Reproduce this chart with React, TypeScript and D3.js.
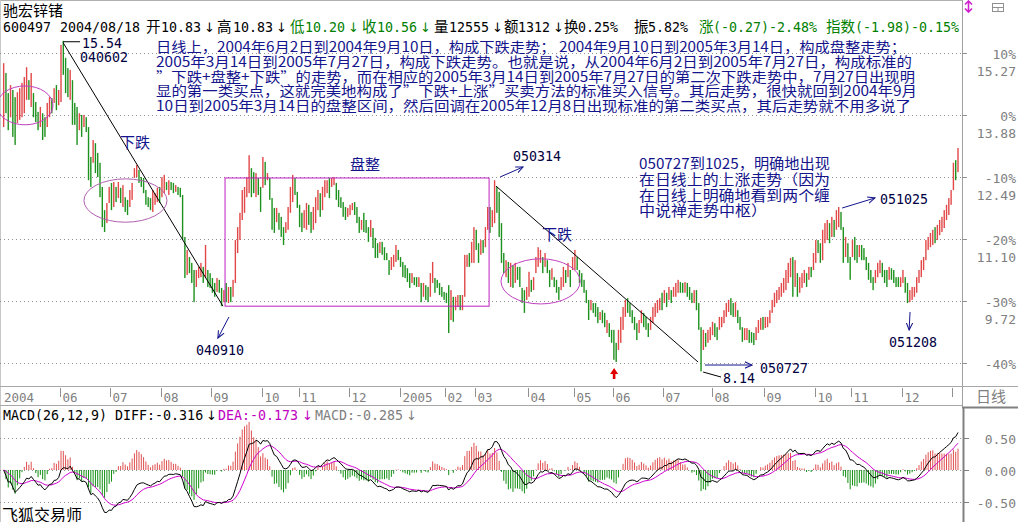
import React from 'react';
import * as d3 from 'd3';

// ---- daily bars (600497 驰宏锌锗, 2004-04-20 .. 2006-01) ----
const opens = [
  13.61,14.82,14.37,13.83,14.44,14.28,13.70,13.77,13.83,13.92,
  14.22,14.66,14.06,14.37,14.17,13.95,13.61,13.92,13.83,13.61,
  13.83,14.26,14.15,14.55,14.10,14.17,15.54,15.16,14.93,14.22,
  14.66,14.15,14.06,13.54,13.88,13.61,13.83,13.61,12.94,12.81,
  13.25,13.03,12.81,12.27,11.75,11.46,11.91,12.36,11.82,12.27,
  12.02,12.25,11.82,12.04,11.98,11.82,11.98,12.47,12.49,12.65,
  12.49,12.47,12.20,12.04,12.02,11.71,11.87,11.93,12.27,12.04,
  12.13,12.38,12.09,12.38,12.36,12.16,12.27,12.25,12.09,11.15,
  10.30,10.70,10.57,10.41,10.03,10.23,10.25,10.48,10.23,10.41,
  10.34,10.23,10.12,9.92,10.19,10.01,9.69,10.12,9.67,10.03,
  9.81,10.12,10.79,11.08,11.53,11.69,12.04,12.13,12.69,12.60,
  12.04,12.47,12.27,12.25,12.83,12.42,12.47,12.02,11.80,11.48,
  11.69,11.60,11.37,11.24,11.31,11.69,11.93,12.47,12.16,11.87,
  11.69,11.35,11.31,11.87,11.71,11.31,11.46,11.75,12.13,11.75,
  12.04,12.13,12.47,12.27,12.31,12.36,12.20,12.04,11.93,11.82,
  11.60,11.64,11.75,11.93,11.82,11.60,11.31,11.69,11.53,11.37,
  11.15,11.35,11.13,11.01,10.79,11.04,10.92,10.79,10.63,10.41,
  10.48,10.59,10.86,10.70,10.59,10.52,10.45,10.34,10.12,10.25,
  10.25,10.03,10.12,9.81,10.07,10.03,9.81,10.12,10.23,10.19,
  10.12,10.03,9.92,9.90,10.07,9.29,9.81,9.51,9.58,9.85,
  9.51,9.81,10.48,10.79,10.57,10.57,11.31,11.01,10.75,11.08,
  10.92,11.31,11.82,11.37,11.46,12.27,12.16,11.46,10.79,10.25,
  10.59,10.03,10.52,10.12,10.48,10.48,10.01,9.96,9.74,9.81,
  10.19,9.96,10.34,10.48,10.57,10.70,10.48,10.63,10.41,10.19,
  10.25,10.19,10.03,9.96,10.03,10.41,10.25,10.41,10.41,10.41,
  10.70,10.41,10.34,10.19,9.96,9.74,9.51,9.67,9.67,9.58,
  9.29,9.51,9.45,9.00,9.22,9.07,9.07,8.78,8.62,8.78,
  9.07,9.36,9.78,9.67,9.51,9.36,9.22,9.00,9.22,9.45,
  9.36,9.22,9.07,9.22,9.36,9.45,9.51,9.90,9.67,9.90,
  9.74,9.96,9.81,9.81,9.90,10.14,10.12,9.90,10.12,10.03,
  9.90,9.67,9.96,9.67,9.13,8.62,9.00,8.78,8.84,8.95,
  9.22,9.13,9.07,9.13,9.22,9.36,9.47,9.78,9.67,9.36,
  9.51,9.36,9.13,8.84,8.84,9.07,9.02,9.00,8.84,9.00,
  9.07,9.36,9.11,9.13,9.22,9.45,9.58,9.67,9.74,9.81,
  9.90,9.96,10.12,10.25,10.70,10.03,10.34,9.90,10.01,10.12,
  10.34,10.19,10.48,10.41,10.57,11.08,11.01,10.63,11.01,11.08,
  11.46,11.15,11.53,11.31,11.37,11.71,11.37,10.70,11.01,10.70,
  10.70,11.15,10.97,10.70,10.97,10.90,10.70,10.57,10.41,10.25,
  10.12,10.25,10.34,10.57,10.41,10.41,10.19,10.45,10.41,10.25,
  10.25,10.03,10.12,10.25,10.12,9.69,9.74,9.81,9.90,10.12,
  10.25,10.41,10.63,10.86,10.92,10.97,11.37,11.08,11.19,11.26,
  11.35,11.53,11.64,11.87,12.20,12.87,12.60,
];
const closes = [
  15.04,13.92,13.54,14.55,13.39,13.21,14.39,14.48,14.60,14.73,
  14.95,14.22,14.82,13.83,13.72,13.54,14.06,13.32,13.39,14.15,
  14.28,13.92,14.48,13.99,14.44,15.45,14.78,14.37,14.28,14.89,
  13.66,13.66,13.21,13.92,13.39,13.88,13.50,12.42,12.27,13.32,
  12.58,12.49,12.04,11.37,11.26,11.91,12.27,11.75,12.38,11.93,
  12.38,11.91,12.31,11.71,11.64,12.20,12.36,12.69,12.76,12.36,
  12.27,12.13,11.87,11.82,11.75,12.20,12.13,12.25,11.91,12.49,
  12.54,12.20,12.42,12.20,12.13,12.31,12.09,12.04,11.08,10.23,
  10.86,10.34,10.12,9.69,10.41,10.48,10.57,10.12,10.97,10.03,
  10.01,9.90,9.81,10.23,9.90,9.60,9.96,9.69,10.03,9.69,
  10.19,11.08,11.37,11.69,12.20,12.27,12.49,12.98,12.04,12.13,
  12.58,12.09,11.71,12.94,12.31,12.58,11.98,11.31,11.24,11.80,
  11.31,11.15,10.97,11.48,11.82,12.27,12.54,12.09,11.80,11.37,
  11.26,11.75,11.91,11.42,11.24,11.82,12.04,12.20,11.60,12.27,
  12.42,12.42,12.02,12.47,12.49,11.98,11.82,11.80,11.60,11.53,
  11.80,11.87,11.91,11.64,11.46,11.24,11.53,11.26,11.24,11.04,
  11.53,10.90,10.68,10.68,11.04,10.75,10.63,10.63,10.30,10.70,
  10.75,10.97,10.63,10.48,10.25,10.23,10.14,10.01,10.34,10.07,
  10.03,10.25,9.69,10.12,9.74,9.69,10.34,10.59,9.90,10.01,
  9.85,9.81,9.74,9.67,9.00,9.96,9.25,9.81,9.85,9.51,
  9.85,10.75,10.75,10.48,11.04,11.37,10.86,10.57,11.08,10.79,
  11.37,11.82,11.24,11.75,12.42,11.69,11.15,10.57,10.34,10.63,
  10.12,10.57,10.01,10.57,10.19,10.03,9.67,9.45,10.03,10.37,
  9.92,10.25,10.70,10.92,10.86,10.34,10.79,10.34,10.03,10.45,
  10.03,9.90,9.74,10.25,10.48,10.12,10.57,10.03,10.70,10.86,
  10.41,10.12,10.03,9.90,9.67,9.29,9.74,9.45,9.36,9.22,
  9.47,9.22,9.13,9.29,8.91,8.78,8.40,8.35,9.07,9.36,
  9.58,9.74,9.45,9.36,9.22,9.07,8.84,9.29,9.51,9.13,
  9.07,8.91,9.36,9.58,9.67,9.74,9.78,9.51,9.96,9.58,
  10.03,9.67,10.03,10.12,10.19,9.90,9.90,10.14,9.81,9.74,
  9.67,9.96,9.51,9.07,8.14,9.07,8.69,9.07,9.13,9.25,
  8.91,8.84,9.36,9.36,9.51,9.67,9.74,9.40,9.36,9.69,
  9.22,9.07,8.80,9.11,9.11,8.78,8.78,8.73,9.13,9.29,
  9.34,9.07,9.36,9.36,9.51,9.74,9.90,9.96,10.03,10.12,
  10.23,10.41,10.57,10.68,9.81,10.63,9.81,10.25,10.34,10.41,
  10.03,10.48,10.25,10.79,11.08,10.79,10.57,11.31,11.46,11.53,
  11.01,11.60,11.15,11.75,11.82,11.31,10.57,11.15,10.57,10.19,
  11.08,10.63,10.57,10.97,10.63,10.63,10.41,10.19,10.12,9.96,
  10.41,10.57,10.63,10.25,10.12,10.03,10.48,10.19,10.12,10.03,
  10.03,10.25,10.41,9.90,9.67,9.96,10.03,10.03,10.25,10.41,
  10.63,10.70,11.08,11.15,11.24,11.31,11.01,11.42,11.53,11.60,
  11.75,11.87,12.02,12.20,12.81,12.42,13.14,
];

// trading days per calendar month and the axis labels at each month start
const monthLabels = ['2004','06','07','08','09','10','11','12','2005','02','03','04','05','06','07','08','09','10','11','12',''];
const monthDays = [25,22,22,22,22,16,22,22,20,13,23,20,17,22,21,23,22,16,22,22,3];

// right price axis
const basePrice = 13.88;
const pctTicks = [10, 0, -10, -20, -30, -40];
const priceLabels = ['15.27', '13.88', '12.49', '11.10', '9.72', ''];

// MACD axis
const macdTicks = [0.5, 0, -0.5];
const macdTickLabels = ['0.50', '0.00', '-0.50'];

const noteLines = [
  '日线上，2004年6月2日到2004年9月10日，构成下跌走势；  2004年9月10日到2005年3月14日，构成盘整走势；',
  '2005年3月14日到2005年7月27日，构成下跌走势。也就是说，从2004年6月2日到2005年7月27日，构成标准的',
  '”下跌+盘整+下跌”的走势，而在相应的2005年3月14日到2005年7月27日的第二次下跌走势中，7月27日出现明',
  '显的第一类买点，这就完美地构成了”下跌+上涨”买卖方法的标准买入信号。其后走势，很快就回到2004年9月',
  '10日到2005年3月14日的盘整区间，然后回调在2005年12月8日出现标准的第二类买点，其后走势就不用多说了',
];
const noteLens = [750, 756, 759, 761, 755];
const note2Lines = ['050727到1025，明确地出现', '在日线上的上涨走势（因为', '在日线上明确地看到两个缠', '中说禅走势中枢）'];
const note2Lens = [191, 191, 191, 128];

const MONO = "'DejaVu Sans Mono', 'Liberation Mono', monospace";
const CJK = "'Noto Sans CJK SC', 'Noto Sans', sans-serif";
const SANS = "'DejaVu Sans', sans-serif";
const GREEN = '#008000';
const GRAY = '#808080';
const NAVY = '#14148c';
const LBL = '#000040';
const MAG = '#c040c0';

function ema(arr: number[], n: number) {
  const k = 2 / (n + 1);
  const out: number[] = [];
  arr.forEach((v, i) => out.push(i === 0 ? v : out[i - 1] + k * (v - out[i - 1])));
  return out;
}

export default function App() {
  const N = closes.length;
  const x = d3.scaleLinear().domain([0, N - 1]).range([3.65, 958]);
  const y = d3.scaleLinear().domain([8.328, 15.268]).range([363, 53]);
  const ym = d3.scaleLinear().domain([-0.5, 0.5]).range([502, 438]);

  const e12 = ema(closes, 12);
  const e26 = ema(closes, 26);
  const diff = closes.map((_, i) => e12[i] - e26[i]);
  const dea = ema(diff, 9);
  const hist = diff.map((d, i) => 2 * (d - dea[i]));
  const mline = d3.line<number>().x((_, i) => x(i)).y((d) => ym(d));

  const starts: number[] = [];
  monthDays.reduce((acc, d) => { starts.push(acc); return acc + d; }, 0);

  const seg = (i0: number, p0: number, i1: number, p1: number, arrow = false, color = NAVY) => (
    <line x1={x(i0)} y1={y(p0)} x2={x(i1)} y2={y(p1)} stroke={color} strokeWidth={1}
      markerEnd={arrow ? 'url(#ah)' : undefined} />
  );
  const ell = (i0: number, i1: number, pTop: number, pBot: number, color = MAG) => (
    <ellipse cx={(x(i0) + x(i1)) / 2} cy={(y(pTop) + y(pBot)) / 2} rx={(x(i1) - x(i0)) / 2}
      ry={(y(pBot) - y(pTop)) / 2} fill="none" stroke={color} strokeWidth={1} />
  );

  const hdr: [string, number, string, string][] = [
    ['600497', 3, '#000', MONO], ['2004/08/18', 60, '#000', MONO],
    ['开', 146, '#000', CJK], ['10.83', 161, '#000', MONO], ['↓', 204, '#000', SANS],
    ['高', 217, '#000', CJK], ['10.83', 233, '#000', MONO], ['↓', 276, '#000', SANS],
    ['低', 290, GREEN, CJK], ['10.20', 305, GREEN, MONO], ['↓', 348, GREEN, SANS],
    ['收', 362, GREEN, CJK], ['10.56', 377, GREEN, MONO], ['↓', 420, GREEN, SANS],
    ['量', 434, '#000', CJK], ['12555', 449, '#000', MONO], ['↓', 492, '#000', SANS],
    ['额', 504, '#000', CJK], ['1312', 518, '#000', MONO], ['↓', 553, '#000', SANS],
    ['换', 564, '#000', CJK], ['0.25%', 578, '#000', MONO],
    ['振', 634, '#000', CJK], ['5.82%', 648, '#000', MONO],
    ['涨', 699, GREEN, CJK], ['(-0.27)-2.48%', 713, GREEN, MONO],
    ['指数', 826, GREEN, CJK], ['(-1.98)-0.15%', 855, GREEN, MONO],
  ];

  const upC = '#e24848';
  const dnC = '#1e921e';

  return (
    <svg width={1018} height={522} style={{ position: 'absolute', left: 0, top: 0, background: '#fff' }}>
      <defs>
        <marker id="ah" viewBox="0 0 10 10" refX="9" refY="5" markerWidth="8" markerHeight="8" orient="auto">
          <path d="M0,1 L9,5 L0,9" fill="none" stroke={NAVY} strokeWidth={1.3} />
        </marker>
        <clipPath id="mclip"><rect x={0} y={408} width={962} height={114} /></clipPath>
        <clipPath id="pclip"><rect x={0} y={36} width={962} height={349} /></clipPath>
      </defs>
      <rect x={0} y={0} width={1018} height={522} fill="#fff" />

      {/* frame */}
      <line x1={0} y1={0.5} x2={962} y2={0.5} stroke="#b0b0b0" />
      <line x1={0.5} y1={0} x2={0.5} y2={522} stroke="#c8c8c8" />
      <line x1={962.5} y1={0} x2={962.5} y2={407} stroke="#a0a0a0" />
      <line x1={0} y1={386.5} x2={1018} y2={386.5} stroke="#a8a8a8" />
      <line x1={0} y1={405.5} x2={962} y2={405.5} stroke="#a8a8a8" />
      <line x1={962} y1={407.5} x2={1018} y2={407.5} stroke="#808080" strokeWidth={2} />
      <line x1={963.5} y1={407} x2={963.5} y2={522} stroke="#808080" strokeWidth={2} />

      {/* top-right icons */}
      <path d="M965,4.5 L968.5,1 L972,4.5 M968.5,1 V11.5 M965,8.5 L968.5,12 L972,8.5" stroke="#d020d0" strokeWidth={1.6} fill="none" />
      <rect x={992.5} y={3.5} width={11} height={8} fill="none" stroke="#909090" />
      <line x1={992.5} y1={7.5} x2={1003.5} y2={7.5} stroke="#909090" />
      <line x1={998} y1={7.5} x2={998} y2={11.5} stroke="#909090" />

      {/* header */}
      <text x={3} y={16} fontFamily={CJK} fontSize={15} fill="#000">驰宏锌锗</text>
      {hdr.map(([t, hx, c, f], k) => (
        <text key={k} x={hx} y={32} fontFamily={f} fontSize={f === CJK ? 14.5 : f === SANS ? 13 : 13.3} fill={c}>{t}</text>
      ))}

      {/* price grid + right axis */}
      {pctTicks.map((p, k) => {
        const yy = Math.round(y(basePrice * (1 + p / 100))) + 0.5;
        return (
          <g key={k}>
            <line x1={0} y1={yy} x2={962} y2={yy} stroke="#909090" strokeDasharray="1,3" />
            <line x1={962} y1={yy} x2={967} y2={yy} stroke="#909090" />
            <text x={1016} y={yy + 5} textAnchor="end" fontFamily={MONO} fontSize={13} fill={GRAY}>{p}%</text>
            {priceLabels[k] && (
              <text x={1016} y={yy + 22} textAnchor="end" fontFamily={MONO} fontSize={13} fill={GRAY}>{priceLabels[k]}</text>
            )}
          </g>
        );
      })}

      {/* candles */}
      <g clipPath="url(#pclip)">
        {closes.map((c, i) => {
          const o = opens[i];
          const up = c >= o;
          const top = y(Math.max(o, c));
          const bot = y(Math.min(o, c));
          return (
            <rect key={i} x={x(i) - 0.7} y={top} width={1.4} height={Math.max(1, bot - top)}
              fill={up ? upC : dnC} />
          );
        })}
      </g>

      {/* annotations */}
      {seg(25.9, 15.50, 95.6, 9.60, false, '#000')}
      {seg(26, 15.52, 33.3, 15.52, false, '#000')}
      {seg(214.6, 12.29, 302.7, 8.35, false, '#000')}
      {ell(-2.9, 21.5, 14.53, 13.66)}
      {ell(35.0, 71.2, 12.45, 11.48, '#b060b0')}
      {ell(216.8, 251.3, 10.66, 9.65)}
      <rect x={x(96.5)} y={y(12.47)} width={x(211.6) - x(96.5)} height={y(9.60) - y(12.47)}
        fill="none" stroke="#c020c0" strokeWidth={1} />
      {seg(98.2, 9.357, 93.4, 8.887, true)}
      {seg(216.4, 12.492, 226.4, 12.716, true)}
      {seg(304.9, 8.126, 312.7, 8.014, false, '#000')}
      {seg(305.7, 8.283, 326.2, 8.283, true)}
      {seg(365.5, 11.798, 379.8, 12.022, true)}
      {seg(395.1, 9.469, 394.7, 9.067, true)}
      <path d={`M${x(266.1) - 4},${y(8.216) + 6} L${x(266.1)},${y(8.216)} L${x(266.1) + 4},${y(8.216) + 6} Z M${x(266.1) - 1.3},${y(8.216) + 6} H${x(266.1) + 1.3} V${y(7.97)} H${x(266.1) - 1.3} Z`}
        fill="#e00000" />

      <text x={82} y={48} fontFamily={MONO} fontSize={13.3} fill={LBL}>15.54</text>
      <text x={80} y={62} fontFamily={MONO} fontSize={13.3} fill={LBL}>040602</text>
      <text x={120} y={148} fontFamily={CJK} fontSize={15} fill={NAVY}>下跌</text>
      <text x={196} y={355} fontFamily={MONO} fontSize={13.3} fill={LBL}>040910</text>
      <text x={350} y={170} fontFamily={CJK} fontSize={15} fill={NAVY}>盘整</text>
      <text x={513} y={161} fontFamily={MONO} fontSize={13.3} fill={LBL}>050314</text>
      <text x={542} y={240} fontFamily={CJK} fontSize={15} fill={NAVY}>下跌</text>
      <text x={723} y={383} fontFamily={MONO} fontSize={13.3} fill={LBL}>8.14</text>
      <text x={760} y={373} fontFamily={MONO} fontSize={13.3} fill={LBL}>050727</text>
      <text x={880} y={204} fontFamily={MONO} fontSize={13.3} fill={LBL}>051025</text>
      <text x={889} y={347} fontFamily={MONO} fontSize={13.3} fill={LBL}>051208</text>

      {noteLines.map((t, k) => (
        <text key={k} x={156} y={52 + k * 14.8} fontFamily={CJK} fontSize={14} fill={NAVY}
          textLength={noteLens[k]} lengthAdjust="spacingAndGlyphs">{t}</text>
      ))}
      {note2Lines.map((t, k) => (
        <text key={k} x={639} y={169 + k * 15.8} fontFamily={CJK} fontSize={14.5} fill={NAVY}
          textLength={note2Lens[k]} lengthAdjust="spacingAndGlyphs">{t}</text>
      ))}

      {/* x axis row */}
      {starts.map((s, k) => {
        const xx = Math.round(x(s) - 1) + 0.5;
        return (
          <g key={k}>
            {k > 0 && <line x1={xx} y1={388} x2={xx} y2={397} stroke="#909090" />}
            <text x={k === 0 ? 4 : xx + 2} y={402} fontFamily={MONO} fontSize={12.5} fill={GRAY}>{monthLabels[k]}</text>
          </g>
        );
      })}
      <text x={976} y={402} fontFamily={CJK} fontSize={15} fill={GRAY}>日线</text>

      {/* MACD panel */}
      <text x={3} y={420} fontFamily={MONO} fontSize={13.3} fill="#000">MACD(26,12,9) DIFF:-0.316</text>
      <text x={206} y={420} fontFamily={SANS} fontSize={13} fill="#000">↓</text>
      <text x={218} y={420} fontFamily={MONO} fontSize={13.3} fill="#c000c0">DEA:-0.173</text>
      <text x={302} y={420} fontFamily={SANS} fontSize={13} fill="#c000c0">↓</text>
      <text x={315} y={420} fontFamily={MONO} fontSize={13.3} fill={GRAY}>MACD:-0.285</text>
      <text x={406} y={420} fontFamily={SANS} fontSize={13} fill={GRAY}>↓</text>

      {macdTicks.map((v, k) => {
        const yy = Math.round(ym(v)) + 0.5;
        return (
          <g key={k}>
            <line x1={0} y1={yy} x2={962} y2={yy} stroke="#909090" strokeDasharray="1,3" />
            <line x1={963} y1={yy} x2={969} y2={yy} stroke="#808080" />
            <text x={1016} y={yy + 5} textAnchor="end" fontFamily={MONO} fontSize={13} fill={GRAY}>{macdTickLabels[k]}</text>
          </g>
        );
      })}
      <g clipPath="url(#mclip)">
        {hist.map((h, i) => (
          <line key={i} x1={x(i)} x2={x(i)} y1={ym(0)} y2={ym(h)} stroke={h >= 0 ? '#e05050' : '#129012'} strokeWidth={1} />
        ))}
        <path d={mline(dea) || ''} fill="none" stroke="#d000d0" strokeWidth={1} />
        <path d={mline(diff) || ''} fill="none" stroke="#000" strokeWidth={1} />
      </g>

      <text x={2} y={521} fontFamily={CJK} fontSize={16} fill="#000">飞狐交易师</text>
    </svg>
  );
}
